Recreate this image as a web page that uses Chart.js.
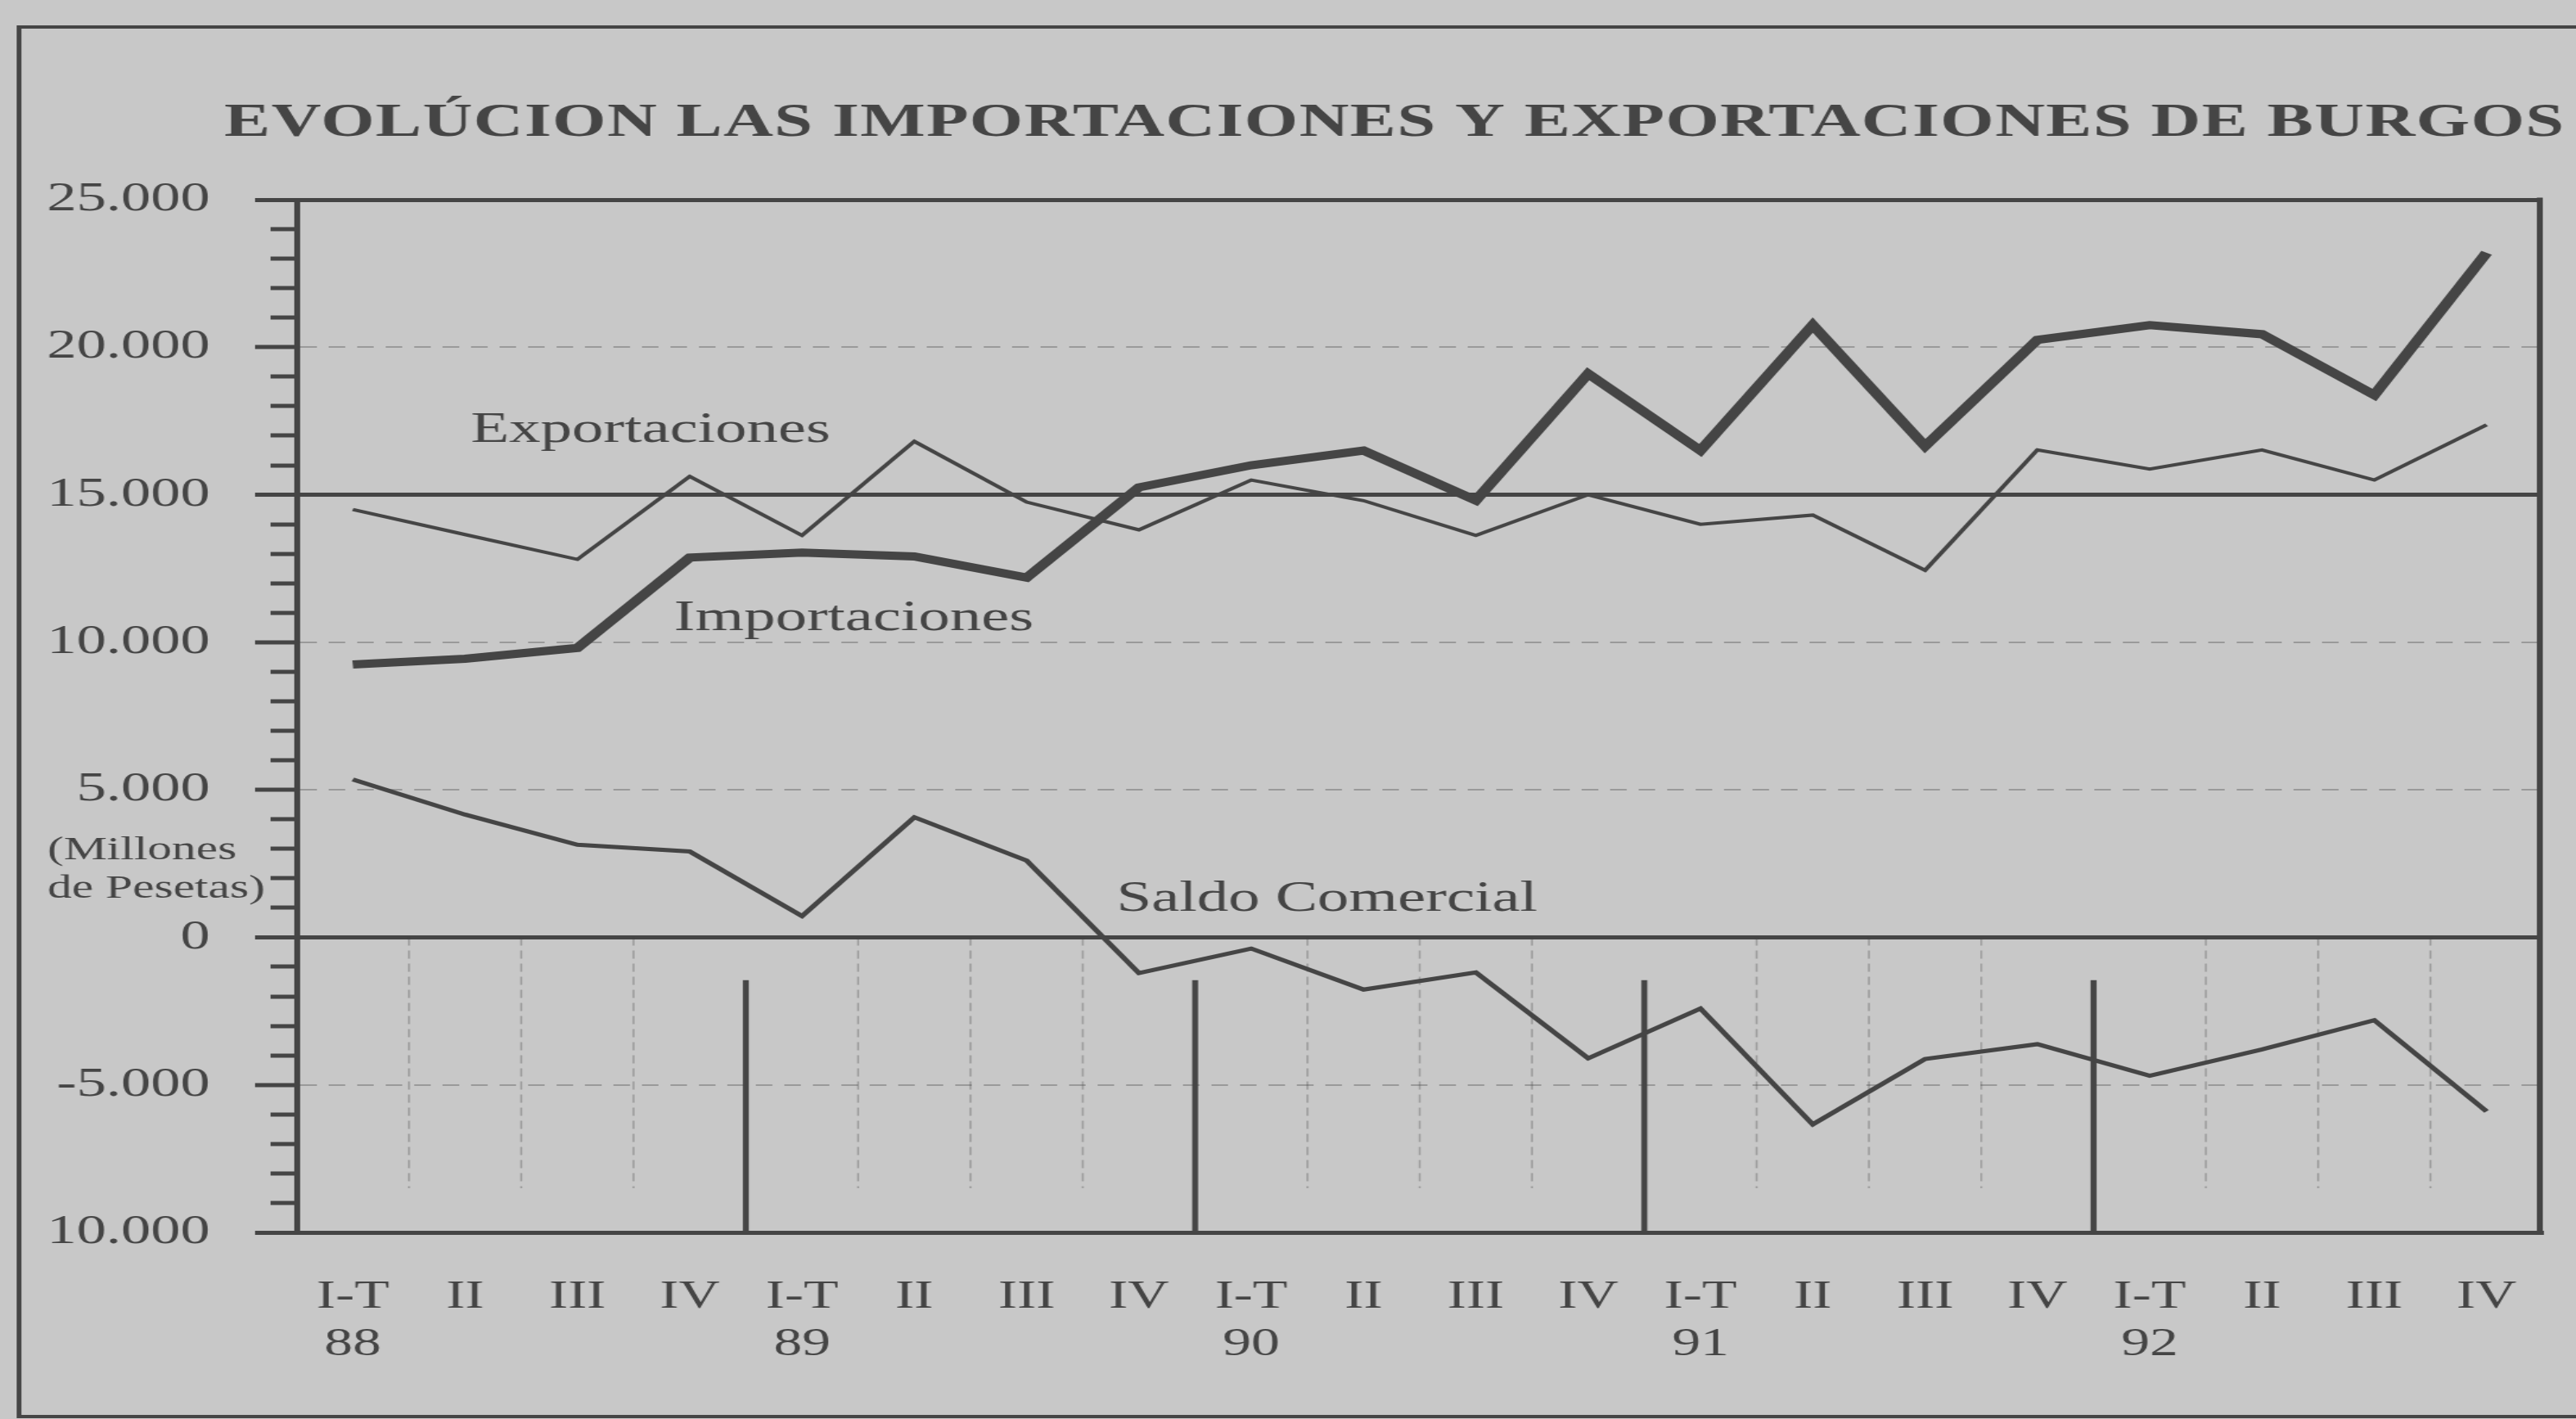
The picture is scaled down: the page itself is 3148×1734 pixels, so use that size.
<!DOCTYPE html>
<html>
<head>
<meta charset="utf-8">
<title>Evolución de las importaciones y exportaciones de Burgos</title>
<script src="https://cdn.jsdelivr.net/npm/chart.js@4.4.1/dist/chart.umd.min.js"></script>
<style>
  html, body { margin: 0; padding: 0; background: #c8c8c8; overflow: hidden; }
  /* the printed graphic is set in a horizontally expanded type, so the whole canvas is stretched */
  #chart { display: block; transform: scaleX(1.45); transform-origin: 0 0; }
</style>
</head>
<body>
<canvas id="chart" width="2171" height="1734"></canvas>
<script>

const categories = [
    ['I-T', '88'], 'II', 'III', 'IV',
    ['I-T', '89'], 'II', 'III', 'IV',
    ['I-T', '90'], 'II', 'III', 'IV',
    ['I-T', '91'], 'II', 'III', 'IV',
    ['I-T', '92'], 'II', 'III', 'IV'
];

// millones de pesetas
const importaciones = [9250, 9440, 9810, 12870, 13040, 12910, 12190, 15250, 16000, 16500,
                       14810, 19100, 16500, 20750, 16650, 20250, 20750, 20440, 18380, 23200];
const exportaciones = [14500, 13650, 12810, 15620, 13620, 16810, 14750, 13810, 15500, 14800,
                       13620, 15000, 14000, 14310, 12440, 16520, 15870, 16520, 15500, 17370];
const saldoComercial = [5350, 4160, 3140, 2910, 720, 4070, 2600, -1210, -380, -1770,
                        -1190, -4100, -2410, -6340, -4120, -3620, -4690, -3800, -2810, -5900];

const yTickValues = [25000, 20000, 15000, 10000, 5000, 0, -5000, -10000];
const yTickLabels = ['25.000', '20.000', '15.000', '10.000', '5.000', '0', '-5.000', '10.000'];

const ink = '#454545';
const faint = 'rgba(69, 69, 69, 0.35)';
const paper = '#c8c8c8';
const serif = '"Liberation Serif", "DejaVu Serif", serif';

const solidLines = [25000, 15000, 0, -10000];

function tickValue(c) {
    return c.tick ? c.tick.value : null;
}

function isMinor(c) {
    const v = tickValue(c);
    return v !== null && v % 5000 !== 0;
}

const decorations = {
    id: 'decorations',
    beforeDraw(chart) {
        const ctx = chart.ctx;
        ctx.save();
        ctx.fillStyle = paper;
        ctx.fillRect(0, 0, chart.width, chart.height);
        // outer frame of the graphic
        ctx.strokeStyle = ink;
        ctx.lineWidth = 4;
        ctx.beginPath();
        ctx.moveTo(chart.width + 10, 33);
        ctx.lineTo(16, 33);
        ctx.lineTo(16, 1731);
        ctx.lineTo(chart.width + 10, 1731);
        ctx.stroke();
        ctx.restore();
    },
    beforeDatasetsDraw(chart) {
        const {ctx, chartArea, scales: {x, y}} = chart;
        ctx.save();
        for (let i = 1; i < categories.length; i++) {
            const xb = (x.getPixelForValue(i - 1) + x.getPixelForValue(i)) / 2;
            ctx.beginPath();
            if (i % 4 === 0) {
                // year separators
                ctx.setLineDash([]);
                ctx.lineWidth = 5;
                ctx.strokeStyle = ink;
                ctx.moveTo(xb, y.getPixelForValue(-1450));
                ctx.lineTo(xb, y.getPixelForValue(-10000));
            } else {
                ctx.setLineDash([10, 6]);
                ctx.lineWidth = 1.5;
                ctx.strokeStyle = faint;
                ctx.moveTo(xb, y.getPixelForValue(0));
                ctx.lineTo(xb, y.getPixelForValue(-8500));
            }
            ctx.stroke();
        }
        ctx.setLineDash([]);
        ctx.lineWidth = 5;
        ctx.strokeStyle = ink;
        ctx.beginPath();
        ctx.moveTo(chartArea.right - 2.5, chartArea.top - 2.5);
        ctx.lineTo(chartArea.right - 2.5, chartArea.bottom + 2.5);
        ctx.stroke();
        ctx.restore();
    },
    afterDraw(chart) {
        const {ctx, scales: {x, y}} = chart;
        ctx.save();
        ctx.fillStyle = ink;
        ctx.textAlign = 'left';
        ctx.textBaseline = 'alphabetic';

        ctx.font = 'bold 58px ' + serif;
        ctx.letterSpacing = '1px';
        ctx.fillText('EVOLÚCION LAS IMPORTACIONES Y EXPORTACIONES DE BURGOS', 189, 166);
        ctx.letterSpacing = '0px';

        ctx.font = '41px ' + serif;
        ctx.fillText('(Millones', 40, 1050);
        ctx.fillText('de Pesetas)', 40, 1097);

        ctx.font = '53px ' + serif;
        ctx.fillText('Exportaciones', x.getPixelForValue(1.05), y.getPixelForValue(16800));
        ctx.fillText('Importaciones', x.getPixelForValue(2.86), y.getPixelForValue(10400));
        ctx.fillText('Saldo Comercial', x.getPixelForValue(6.8), y.getPixelForValue(900));
        ctx.restore();
    }
};

new Chart(document.getElementById('chart'), {
    type: 'line',
    data: {
        labels: categories,
        datasets: [
            {label: 'Importaciones', data: importaciones, borderColor: ink, borderWidth: 10},
            {label: 'Exportaciones', data: exportaciones, borderColor: ink, borderWidth: 4},
            {label: 'Saldo Comercial', data: saldoComercial, borderColor: ink, borderWidth: 5}
        ]
    },
    options: {
        responsive: false,
        animation: false,
        layout: {padding: {top: 244, right: 0, bottom: 0, left: 0}},
        elements: {
            point: {radius: 0},
            line: {tension: 0, borderJoinStyle: 'miter', borderCapStyle: 'butt'}
        },
        plugins: {
            legend: {display: false},
            tooltip: {enabled: false},
            title: {display: false}
        },
        scales: {
            x: {
                type: 'category',
                offset: true,
                grid: {display: false, offset: true, drawTicks: false},
                border: {display: true, color: ink, width: 5},
                ticks: {
                    color: ink,
                    font: {family: serif, size: 48, lineHeight: 1.22},
                    padding: 50,
                    autoSkip: false,
                    maxRotation: 0
                },
                afterFit: function (scale) {
                    scale.height = 228;
                }
            },
            y: {
                min: -10000,
                max: 25000,
                ticks: {
                    stepSize: 1000,
                    autoSkip: false,
                    color: ink,
                    font: {family: serif, size: 50},
                    padding: 38,
                    callback: function (value) {
                        const k = yTickValues.indexOf(value);
                        return k < 0 ? '' : yTickLabels[k];
                    }
                },
                grid: {
                    color: function (c) {
                        const v = tickValue(c);
                        if (v === null || solidLines.includes(v)) return ink;
                        return v % 5000 === 0 ? faint : 'transparent';
                    },
                    lineWidth: function (c) {
                        const v = tickValue(c);
                        return (v === null || solidLines.includes(v)) ? 5 : 2;
                    },
                    tickColor: ink,
                    tickWidth: 5,
                    tickLength: 35,
                    // short minor ticks: hide the outer part of the tick with a dash pattern
                    tickBorderDash: function (c) {
                        return isMinor(c) ? [22, 13] : [];
                    },
                    tickBorderDashOffset: function (c) {
                        return isMinor(c) ? 22 : 0;
                    }
                },
                border: {
                    color: ink,
                    width: 5,
                    dash: function (c) {
                        const v = tickValue(c);
                        return (v !== null && v % 5000 === 0 && !solidLines.includes(v)) ? [14, 10] : [];
                    }
                },
                afterFit: function (scale) {
                    scale.width = 250;
                }
            }
        }
    },
    plugins: [decorations]
});
</script>
</body>
</html>
